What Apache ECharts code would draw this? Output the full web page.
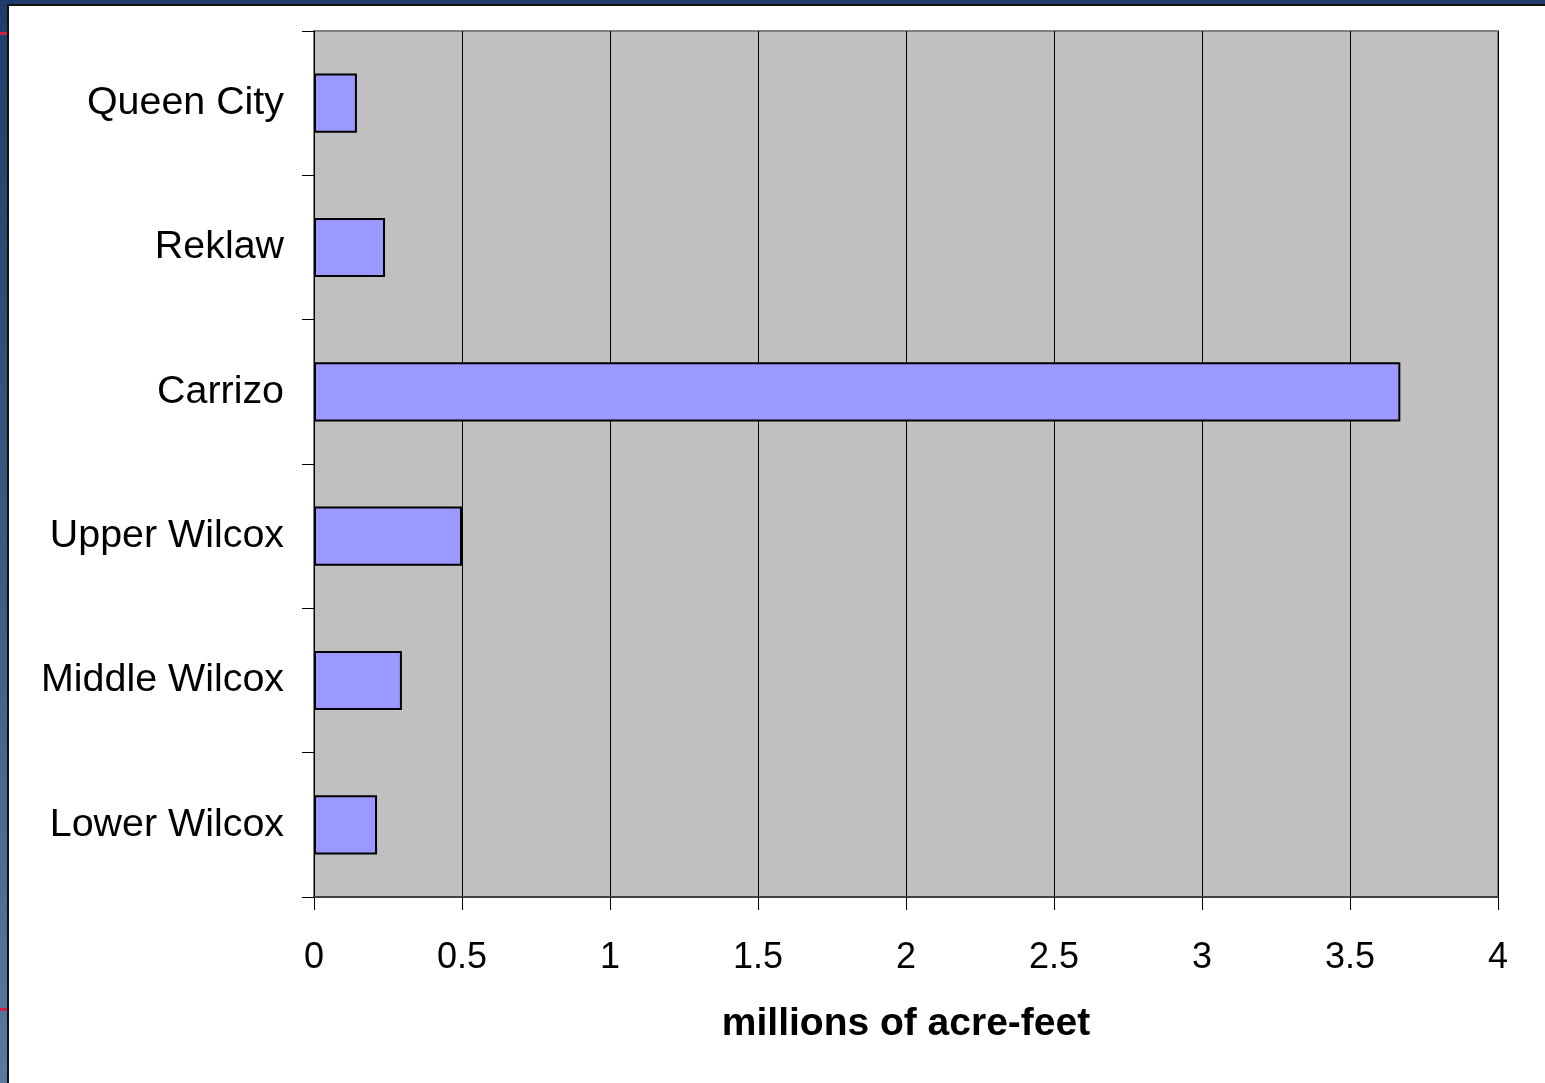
<!DOCTYPE html>
<html>
<head>
<meta charset="utf-8">
<title>Aquifer storage</title>
<script src="https://cdn.jsdelivr.net/npm/echarts@6/dist/echarts.min.js"></script>
<style>
  html, body { margin: 0; padding: 0; background: #ffffff; }
  #chart { width: 1545px; height: 1083px; }
</style>
</head>
<body>
<div id="chart"></div>
<script>
// Formations, listed top to bottom
const formations = ['Queen City', 'Reklaw', 'Carrizo', 'Upper Wilcox', 'Middle Wilcox', 'Lower Wilcox'];
// Volume in millions of acre-feet
const volumes = [0.145, 0.24, 3.67, 0.5, 0.297, 0.213];
// Value axis ticks
const xTicks = [0, 0.5, 1, 1.5, 2, 2.5, 3, 3.5, 4];
const xAxisTitle = 'millions of acre-feet';

const chart = echarts.init(document.getElementById('chart'), null, { renderer: 'canvas' });

const font = '"Liberation Sans", Arial, sans-serif';

chart.setOption({
  backgroundColor: '#ffffff',
  animation: false,
  graphic: [
    // slide frame: blue strip on the left and top, with a dark inner edge
    {
      type: 'rect', left: 0, top: 0, z: 100,
      shape: { width: 8, height: 1083 },
      style: {
        fill: new echarts.graphic.LinearGradient(0, 0, 0, 1, [
          { offset: 0, color: '#213c6a' },
          { offset: 0.5, color: '#3a5a86' },
          { offset: 1, color: '#587a9c' }
        ])
      }
    },
    { type: 'rect', left: 0, top: 0, z: 100, shape: { width: 1545, height: 5 }, style: { fill: '#213c6a' } },
    { type: 'rect', left: 7, top: 4, z: 101, shape: { width: 2, height: 1079 }, style: { fill: '#111111' } },
    { type: 'rect', left: 7, top: 4, z: 101, shape: { width: 1538, height: 2 }, style: { fill: '#111111' } },
    { type: 'rect', left: 0, top: 32, z: 102, shape: { width: 7, height: 3 }, style: { fill: '#d21f47' } },
    { type: 'rect', left: 0, top: 1008, z: 102, shape: { width: 7, height: 3 }, style: { fill: '#d21f47' } }
  ],
  grid: {
    left: 314, right: 47, top: 31, bottom: 186,
    show: true,
    backgroundColor: '#c0c0c0',
    borderColor: '#808080',
    borderWidth: 2
  },
  xAxis: {
    type: 'value',
    min: xTicks[0],
    max: xTicks[xTicks.length - 1],
    interval: 0.5,
    name: xAxisTitle,
    nameLocation: 'middle',
    nameGap: 108,
    nameTextStyle: { fontFamily: font, fontSize: 39, fontWeight: 'bold', color: '#000000' },
    axisLine: { show: true, lineStyle: { color: '#404040', width: 2 } },
    axisTick: { show: true, length: 13, lineStyle: { color: '#000000', width: 1 } },
    axisLabel: {
      margin: 43,
      fontFamily: font, fontSize: 36, color: '#000000',
      formatter: v => String(v)
    },
    splitLine: { show: true, lineStyle: { color: '#000000', width: 1 } }
  },
  yAxis: {
    type: 'category',
    data: formations,
    inverse: true,
    axisLine: { show: true, lineStyle: { color: '#000000', width: 1 } },
    axisTick: { show: true, length: 12, lineStyle: { color: '#000000', width: 1 } },
    axisLabel: { margin: 30, padding: [10, 0, 0, 0], fontFamily: font, fontSize: 39.4, color: '#000000' },
    splitLine: { show: false }
  },
  series: [{
    type: 'bar',
    data: volumes,
    barCategoryGap: '59%',
    itemStyle: { color: '#9999ff', borderColor: '#000000', borderWidth: 2 }
  }]
});
</script>
</body>
</html>
